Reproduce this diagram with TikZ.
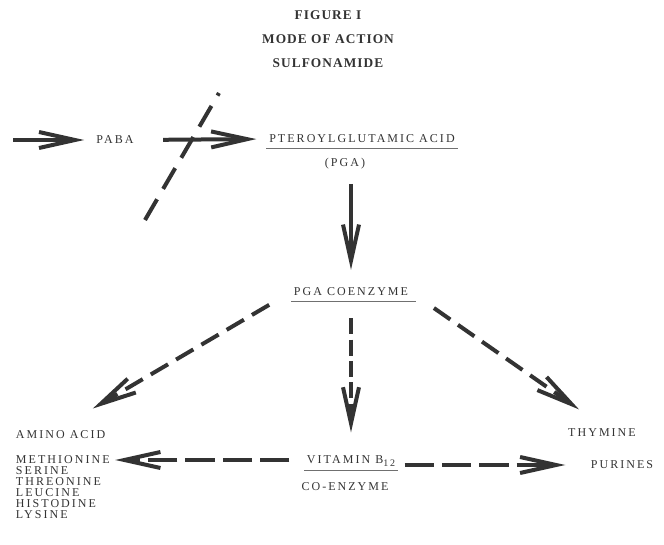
\documentclass[tikz,border=0pt]{standalone}
\usepackage{fontspec}
\setmainfont{Liberation Serif}[LetterSpace=17]
\usepackage{xcolor}
\usepackage{tikz}
\usetikzlibrary{arrows.meta, positioning}

\definecolor{ink}{HTML}{333333}

\begin{document}
\begin{tikzpicture}[
    x=0.75pt, y=-0.75pt,
    every node/.style={text=ink, inner sep=2pt},
    lbl/.style={font=\fontsize{9}{10}\selectfont, text height=6.3pt, text depth=0.6pt},
    ttl/.style={font=\fontsize{10}{12}\selectfont\bfseries\addfontfeatures{LetterSpace=8}},
    heavy/.style={draw=ink, line width=3pt, -{Straight Barb[length=27pt, width=12pt]}},
    dashdiag/.style={heavy, dash pattern=on 15pt off 7pt},
    dashflat/.style={heavy, dash pattern=on 22pt off 6pt},
    dashdown/.style={heavy, dash pattern=on 12pt off 4pt},
    rule/.style={draw=ink!70, line width=0.6pt}
]
\useasboundingbox (0,0) rectangle (664,545);

% title
\node[ttl] (fig) at (328,15) {FIGURE I};
\node[ttl] (mode) at (328,39) {MODE OF ACTION};
\node[ttl] (sulfa) at (328,63) {SULFONAMIDE};

% top row
\coordinate (feed) at (13,140);
\node[lbl] (paba) at (115,140) {PABA};
\node[lbl] (pteroyl) at (362,139) {PTEROYLGLUTAMIC ACID};
\node[lbl] (pgashort) at (345,163) {(PGA)};
\draw[rule] ([yshift=-1.5pt]pteroyl.south west) -- ([yshift=-1.5pt]pteroyl.south east);

% middle
\node[lbl] (coenz) at (351,292) {PGA COENZYME};
\draw[rule] ([yshift=-1.5pt]coenz.south west) -- ([yshift=-1.5pt,xshift=4pt]coenz.south east);

% bottom row
\node[lbl, anchor=west] (amino) at (13,435) {AMINO ACID};
\node[lbl, anchor=west] (meth) at (13,460) {METHIONINE};
\node[lbl, anchor=west] (serine) at (13,471) {SERINE};
\node[lbl, anchor=west] (threo) at (13,482) {THREONINE};
\node[lbl, anchor=west] (leuc) at (13,493) {LEUCINE};
\node[lbl, anchor=west] (histo) at (13,504) {HISTODINE};
\node[lbl, anchor=west] (lysine) at (13,515) {LYSINE};

\node[lbl] (vitamin) at (351,460) {VITAMIN B\raisebox{-2pt}{\fontsize{7.5}{8}\selectfont 12}};
\node[lbl] (coenzb) at (345,487) {CO-ENZYME};
\draw[rule] ([yshift=-2.5pt]vitamin.south west) -- ([yshift=-2.5pt]vitamin.south east);

\node[lbl] (thymine) at (602,433) {THYMINE};
\node[lbl] (purines) at (622,465) {PURINES};

% pathway
\draw[heavy, shorten >=7pt] (feed) -- (paba.west);
\draw[heavy, shorten <=20pt, shorten >=7.5pt] (paba.east) -- (pteroyl.west);
\draw[heavy, shorten <=10pt, shorten >=11pt] (pgashort.south -| coenz.north) -- (coenz.north);

% sulfonamide block
\coordinate (cutlo) at (145,220);
\coordinate (cuthi) at (219,93);
\draw[draw=ink, line width=3pt, dash pattern=on 18pt off 9pt] (cutlo) -- (cuthi);

% coenzyme routes
\draw[dashdiag, shorten <=19pt, shorten >=28pt] (coenz.west) -- (amino.north);
\draw[dashdown, shorten <=14pt, shorten >=15pt] (coenz.south) -- (vitamin.north -| coenz.south);
\draw[dashdiag, shorten <=21pt, shorten >=21pt] (coenz.east) -- (thymine.north);

% vitamin B12 routes
\draw[dashflat, shorten <=11pt, shorten >=2pt] (vitamin.west) -- (meth.east);
\draw[dashflat, shorten <=5pt, shorten >=17pt] (vitamin.east |- purines) -- (purines.west);

\end{tikzpicture}
\end{document}
